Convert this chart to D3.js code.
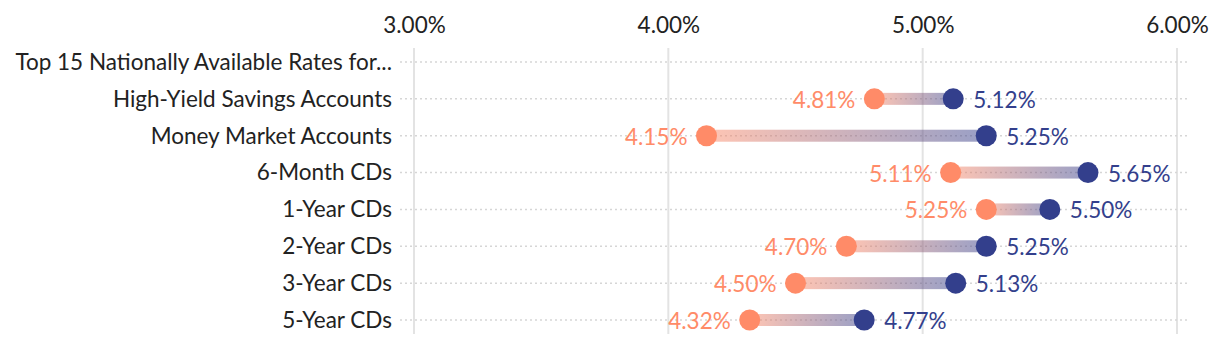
<!DOCTYPE html>
<html><head><meta charset="utf-8">
<script src="https://cdn.jsdelivr.net/npm/d3@7"></script>
<style>body{margin:0;background:#fff}svg{display:block}text{font-family:"Lato","Noto Sans",sans-serif}</style>
</head><body>
<svg id="c" width="1220" height="346"></svg>
<script>
const categories = ["Top 15 Nationally Available Rates for...","High-Yield Savings Accounts","Money Market Accounts","6-Month CDs","1-Year CDs","2-Year CDs","3-Year CDs","5-Year CDs"];
const lowValues  = [null, 4.81, 4.15, 5.11, 5.25, 4.70, 4.50, 4.32];
const highValues = [null, 5.12, 5.25, 5.65, 5.50, 5.25, 5.13, 4.77];
const tickValues = [3, 4, 5, 6];

const FS = 22.5;
const svg = d3.select("#c");
const x = d3.scaleLinear().domain([3, 6]).range([414, 1177]);
const y = d3.scalePoint().domain(categories).range([62, 320]);
const orange = "#FF8B68", navy = "#333F8C";

// vertical gridlines
svg.append("g").selectAll("line").data(tickValues).join("line")
  .attr("x1", d => x(d)).attr("x2", d => x(d)).attr("y1", 48).attr("y2", 334)
  .attr("stroke", "#e3e3e3").attr("stroke-width", 2);

// top axis labels
const ax = svg.append("g").attr("transform", "translate(0,33)")
  .call(d3.axisTop(x).tickValues(tickValues).tickFormat(d => d3.format(".2f")(d) + "%").tickSize(0).tickPadding(0));
ax.select(".domain").remove();
ax.selectAll("text").attr("font-size", FS).attr("fill", "#222").attr("font-family", null);

// dotted row lines
svg.append("g").selectAll("line").data(categories).join("line")
  .attr("x1", 400).attr("x2", 1190).attr("y1", d => y(d)).attr("y2", d => y(d))
  .attr("stroke", "#d6d6d6").attr("stroke-width", 1.5).attr("stroke-dasharray", "2,3");

// category labels
svg.append("g").selectAll("text").data(categories).join("text")
  .attr("x", 392).attr("y", d => y(d)).attr("dy", "0.35em").attr("text-anchor", "end")
  .attr("font-size", FS).attr("fill", "#222").text(d => d);

const rows = categories.map((c, i) => ({c, lo: lowValues[i], hi: highValues[i], i})).filter(d => d.lo != null);

const defs = svg.append("defs");
rows.forEach(d => {
  const g = defs.append("linearGradient").attr("id", "g" + d.i)
    .attr("gradientUnits", "userSpaceOnUse")
    .attr("x1", x(d.lo)).attr("x2", x(d.hi)).attr("y1", 0).attr("y2", 0);
  g.append("stop").attr("offset", "0%").attr("stop-color", orange).attr("stop-opacity", 0.5);
  g.append("stop").attr("offset", "100%").attr("stop-color", navy).attr("stop-opacity", 0.5);
});

const rg = svg.append("g").selectAll("g").data(rows).join("g");
rg.append("rect")
  .attr("x", d => x(d.lo)).attr("width", d => x(d.hi) - x(d.lo))
  .attr("y", d => y(d.c) - 6).attr("height", 12)
  .attr("fill", d => `url(#g${d.i})`);
rg.append("circle").attr("cx", d => x(d.lo)).attr("cy", d => y(d.c)).attr("r", 10.5).attr("fill", orange);
rg.append("circle").attr("cx", d => x(d.hi)).attr("cy", d => y(d.c)).attr("r", 10.5).attr("fill", navy);
rg.append("text").attr("x", d => x(d.lo) - 19).attr("y", d => y(d.c)).attr("dy", "0.4em")
  .attr("text-anchor", "end").attr("font-size", FS).attr("fill", orange)
  .text(d => d3.format(".2f")(d.lo) + "%");
rg.append("text").attr("x", d => x(d.hi) + 20).attr("y", d => y(d.c)).attr("dy", "0.4em")
  .attr("text-anchor", "start").attr("font-size", FS).attr("fill", navy)
  .text(d => d3.format(".2f")(d.hi) + "%");
</script>
</body></html>
